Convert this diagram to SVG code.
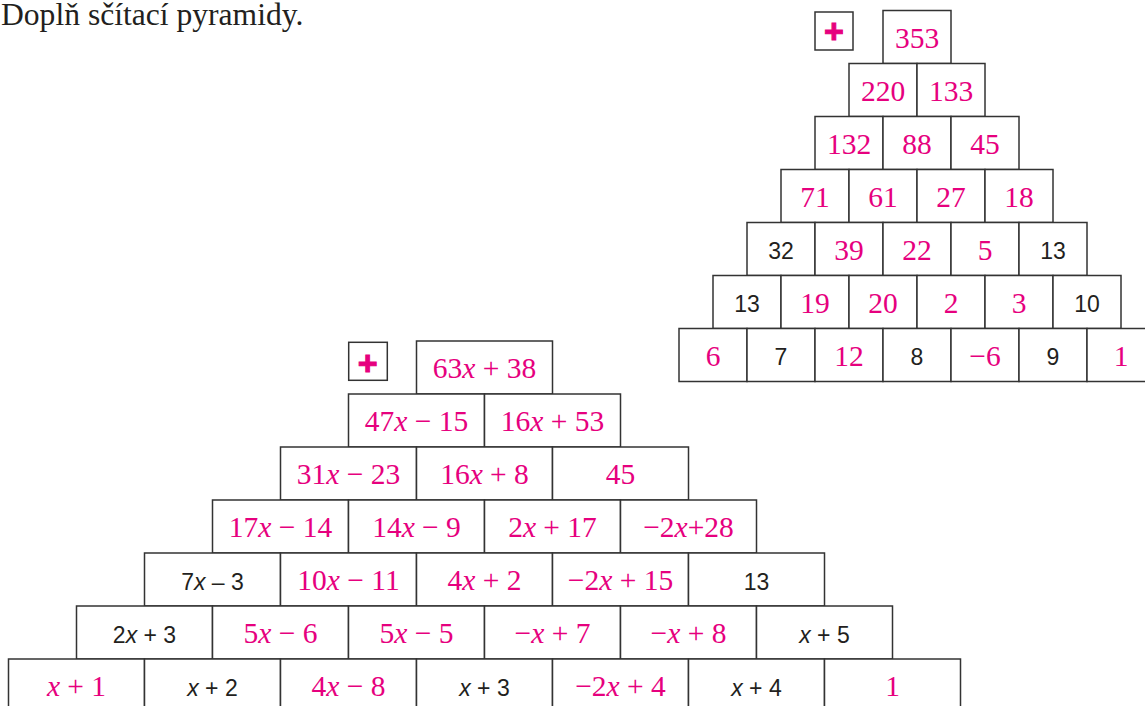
<svg xmlns="http://www.w3.org/2000/svg" width="1145" height="706" viewBox="0 0 1145 706">
<style>
.c{fill:#fff;stroke:#333;stroke-width:1.5}
.p{font-family:"Liberation Serif","Times New Roman",serif;font-size:29.5px;fill:#e6007e;text-anchor:middle}
.b{font-family:"Liberation Sans",Arial,sans-serif;font-size:23px;fill:#231f20;text-anchor:middle}
.i{font-style:italic}
.plus{font-family:"Liberation Sans",Arial,sans-serif;font-weight:bold;font-size:34px;fill:#e6007e;stroke:#e6007e;stroke-width:1;text-anchor:middle}
.t{font-family:"Liberation Serif","Times New Roman",serif;font-size:31.6px;fill:#231f20}
</style>
<text class="t" x="1" y="25">Doplň sčítací pyramidy.</text>
<g id="top-pyramid">
<g id="t-op"><rect class="c" x="815" y="12" width="38" height="38"/><text class="plus" x="834" y="43.3">+</text></g>
<g id="t11"><rect class="c" x="883" y="10.5" width="68" height="53"/><text class="p" x="917" y="47.5">353</text></g>
<g id="t21"><rect class="c" x="849" y="63.5" width="68" height="53"/><text class="p" x="883" y="100.5">220</text></g>
<g id="t22"><rect class="c" x="917" y="63.5" width="68" height="53"/><text class="p" x="951" y="100.5">133</text></g>
<g id="t31"><rect class="c" x="815" y="116.5" width="68" height="53"/><text class="p" x="849" y="153.5">132</text></g>
<g id="t32"><rect class="c" x="883" y="116.5" width="68" height="53"/><text class="p" x="917" y="153.5">88</text></g>
<g id="t33"><rect class="c" x="951" y="116.5" width="68" height="53"/><text class="p" x="985" y="153.5">45</text></g>
<g id="t41"><rect class="c" x="781" y="169.5" width="68" height="53"/><text class="p" x="815" y="206.5">71</text></g>
<g id="t42"><rect class="c" x="849" y="169.5" width="68" height="53"/><text class="p" x="883" y="206.5">61</text></g>
<g id="t43"><rect class="c" x="917" y="169.5" width="68" height="53"/><text class="p" x="951" y="206.5">27</text></g>
<g id="t44"><rect class="c" x="985" y="169.5" width="68" height="53"/><text class="p" x="1019" y="206.5">18</text></g>
<g id="t51"><rect class="c" x="747" y="222.5" width="68" height="53"/><text class="b" x="781" y="259">32</text></g>
<g id="t52"><rect class="c" x="815" y="222.5" width="68" height="53"/><text class="p" x="849" y="259.5">39</text></g>
<g id="t53"><rect class="c" x="883" y="222.5" width="68" height="53"/><text class="p" x="917" y="259.5">22</text></g>
<g id="t54"><rect class="c" x="951" y="222.5" width="68" height="53"/><text class="p" x="985" y="259.5">5</text></g>
<g id="t55"><rect class="c" x="1019" y="222.5" width="68" height="53"/><text class="b" x="1053" y="259">13</text></g>
<g id="t61"><rect class="c" x="713" y="275.5" width="68" height="53"/><text class="b" x="747" y="312">13</text></g>
<g id="t62"><rect class="c" x="781" y="275.5" width="68" height="53"/><text class="p" x="815" y="312.5">19</text></g>
<g id="t63"><rect class="c" x="849" y="275.5" width="68" height="53"/><text class="p" x="883" y="312.5">20</text></g>
<g id="t64"><rect class="c" x="917" y="275.5" width="68" height="53"/><text class="p" x="951" y="312.5">2</text></g>
<g id="t65"><rect class="c" x="985" y="275.5" width="68" height="53"/><text class="p" x="1019" y="312.5">3</text></g>
<g id="t66"><rect class="c" x="1053" y="275.5" width="68" height="53"/><text class="b" x="1087" y="312">10</text></g>
<g id="t71"><rect class="c" x="679" y="328.5" width="68" height="53"/><text class="p" x="713" y="365.5">6</text></g>
<g id="t72"><rect class="c" x="747" y="328.5" width="68" height="53"/><text class="b" x="781" y="365">7</text></g>
<g id="t73"><rect class="c" x="815" y="328.5" width="68" height="53"/><text class="p" x="849" y="365.5">12</text></g>
<g id="t74"><rect class="c" x="883" y="328.5" width="68" height="53"/><text class="b" x="917" y="365">8</text></g>
<g id="t75"><rect class="c" x="951" y="328.5" width="68" height="53"/><text class="p" x="985" y="365.5">−6</text></g>
<g id="t76"><rect class="c" x="1019" y="328.5" width="68" height="53"/><text class="b" x="1053" y="365">9</text></g>
<g id="t77"><rect class="c" x="1087" y="328.5" width="68" height="53"/><text class="p" x="1121" y="365.5">1</text></g>
</g>
<g id="bottom-pyramid">
<g id="b-op"><rect class="c" x="348.7" y="342.3" width="38.6" height="38"/><text class="plus" x="367.8" y="374.7">+</text></g>
<g id="b11"><rect class="c" x="416.5" y="341" width="136" height="53"/><text class="p" x="484.5" y="378">63<tspan class="i">x</tspan> + 38</text></g>
<g id="b21"><rect class="c" x="348.5" y="394" width="136" height="53"/><text class="p" x="416.5" y="431">47<tspan class="i">x</tspan> − 15</text></g>
<g id="b22"><rect class="c" x="484.5" y="394" width="136" height="53"/><text class="p" x="552.5" y="431">16<tspan class="i">x</tspan> + 53</text></g>
<g id="b31"><rect class="c" x="280.5" y="447" width="136" height="53"/><text class="p" x="348.5" y="484">31<tspan class="i">x</tspan> − 23</text></g>
<g id="b32"><rect class="c" x="416.5" y="447" width="136" height="53"/><text class="p" x="484.5" y="484">16<tspan class="i">x</tspan> + 8</text></g>
<g id="b33"><rect class="c" x="552.5" y="447" width="136" height="53"/><text class="p" x="620.5" y="484">45</text></g>
<g id="b41"><rect class="c" x="212.5" y="500" width="136" height="53"/><text class="p" x="280.5" y="537">17<tspan class="i">x</tspan> − 14</text></g>
<g id="b42"><rect class="c" x="348.5" y="500" width="136" height="53"/><text class="p" x="416.5" y="537">14<tspan class="i">x</tspan> − 9</text></g>
<g id="b43"><rect class="c" x="484.5" y="500" width="136" height="53"/><text class="p" x="552.5" y="537">2<tspan class="i">x</tspan> + 17</text></g>
<g id="b44"><rect class="c" x="620.5" y="500" width="136" height="53"/><text class="p" x="688.5" y="537">−2<tspan class="i">x</tspan>+28</text></g>
<g id="b51"><rect class="c" x="144.5" y="553" width="136" height="53"/><text class="b" x="212.5" y="589.5">7<tspan class="i">x</tspan> – 3</text></g>
<g id="b52"><rect class="c" x="280.5" y="553" width="136" height="53"/><text class="p" x="348.5" y="590">10<tspan class="i">x</tspan> − 11</text></g>
<g id="b53"><rect class="c" x="416.5" y="553" width="136" height="53"/><text class="p" x="484.5" y="590">4<tspan class="i">x</tspan> + 2</text></g>
<g id="b54"><rect class="c" x="552.5" y="553" width="136" height="53"/><text class="p" x="620.5" y="590">−2<tspan class="i">x</tspan> + 15</text></g>
<g id="b55"><rect class="c" x="688.5" y="553" width="136" height="53"/><text class="b" x="756.5" y="589.5">13</text></g>
<g id="b61"><rect class="c" x="76.5" y="606" width="136" height="53"/><text class="b" x="144.5" y="642.5">2<tspan class="i">x</tspan> + 3</text></g>
<g id="b62"><rect class="c" x="212.5" y="606" width="136" height="53"/><text class="p" x="280.5" y="643">5<tspan class="i">x</tspan> − 6</text></g>
<g id="b63"><rect class="c" x="348.5" y="606" width="136" height="53"/><text class="p" x="416.5" y="643">5<tspan class="i">x</tspan> − 5</text></g>
<g id="b64"><rect class="c" x="484.5" y="606" width="136" height="53"/><text class="p" x="552.5" y="643">−<tspan class="i">x</tspan> + 7</text></g>
<g id="b65"><rect class="c" x="620.5" y="606" width="136" height="53"/><text class="p" x="688.5" y="643">−<tspan class="i">x</tspan> + 8</text></g>
<g id="b66"><rect class="c" x="756.5" y="606" width="136" height="53"/><text class="b" x="824.5" y="642.5"><tspan class="i">x</tspan> + 5</text></g>
<g id="b71"><rect class="c" x="8.5" y="659" width="136" height="53"/><text class="p" x="76.5" y="696"><tspan class="i">x</tspan> + 1</text></g>
<g id="b72"><rect class="c" x="144.5" y="659" width="136" height="53"/><text class="b" x="212.5" y="695.5"><tspan class="i">x</tspan> + 2</text></g>
<g id="b73"><rect class="c" x="280.5" y="659" width="136" height="53"/><text class="p" x="348.5" y="696">4<tspan class="i">x</tspan> − 8</text></g>
<g id="b74"><rect class="c" x="416.5" y="659" width="136" height="53"/><text class="b" x="484.5" y="695.5"><tspan class="i">x</tspan> + 3</text></g>
<g id="b75"><rect class="c" x="552.5" y="659" width="136" height="53"/><text class="p" x="620.5" y="696">−2<tspan class="i">x</tspan> + 4</text></g>
<g id="b76"><rect class="c" x="688.5" y="659" width="136" height="53"/><text class="b" x="756.5" y="695.5"><tspan class="i">x</tspan> + 4</text></g>
<g id="b77"><rect class="c" x="824.5" y="659" width="136" height="53"/><text class="p" x="892.5" y="696">1</text></g>
</g>
<g id="connectors"/>
</svg>
